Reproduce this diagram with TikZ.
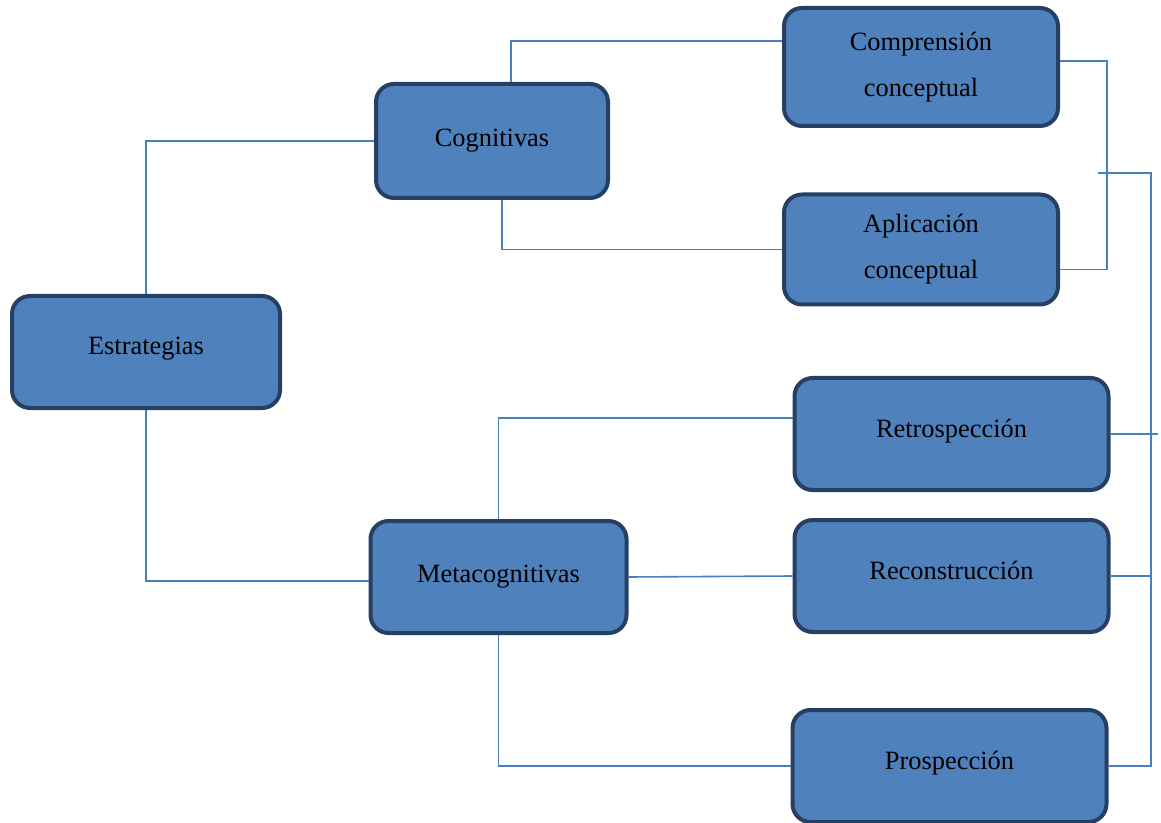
\documentclass[tikz,border=0pt]{standalone}
\usepackage{fontspec}
\setmainfont{Liberation Serif}
\usepackage{xcolor}
\usetikzlibrary{positioning,calc}
\definecolor{boxfill}{HTML}{4F81BD}
\definecolor{boxline}{HTML}{263F63}
\definecolor{linkblue}{HTML}{4A7EBF}

\begin{document}
\begin{tikzpicture}[
    x=0.5pt, y=-0.5pt,
    box/.style={
        rectangle, rounded corners=9pt, draw=boxline, line width=2pt,
        fill=boxfill, text=black, align=center, inner sep=0,
        font=\fontsize{13.2}{23}\selectfont},
    lifted/.style={text depth=0.6em},
    link/.style={draw=linkblue, line width=0.8pt}]
\useasboundingbox (0,0) rectangle (1161,823);

\node[box, lifted, minimum width=134pt, minimum height=56pt] (est)   at (146,352)   {Estrategias};
\node[box, minimum width=116pt, minimum height=57pt] (cog)   at (492,141)   {Cognitivas};
\node[box, minimum width=128pt, minimum height=56pt] (meta)  at (498.5,577) {Metacognitivas};
\node[box, minimum width=137pt, minimum height=59pt] (comp)  at (921,67)    {Comprensión\\conceptual};
\node[box, minimum width=137pt, minimum height=55pt] (apl)   at (921,249.5) {Aplicación\\conceptual};
\node[box, lifted, minimum width=157pt, minimum height=56pt] (retro) at (951.5,434) {Retrospección};
\node[box, lifted, minimum width=157pt, minimum height=56pt] (recon) at (951.5,576) {Reconstrucción};
\node[box, lifted, minimum width=157pt, minimum height=56pt] (pros)  at (949.5,766) {Prospección};

\coordinate (bracketmid) at (1098,173);
\coordinate (bracket) at (1107,173);
\coordinate (rail) at (1151,173);

% left side
\path[link] (est.north) |- (cog.west);
\path[link] (est.south) |- ([yshift=-2pt]meta.west);
\path[link] ([xshift=9.5pt]cog.north) |- ([yshift=13pt]comp.west);
\path[link] ([xshift=5pt]cog.south) |- (apl.west);
\path[link] (meta.north) |- ([yshift=8pt]retro.west);
\path[link] (meta.east) -- (recon.west);
\path[link] (meta.south) |- (pros.west);

% right side
\path[link] ([yshift=3pt]comp.east) -| (bracket) |- ([yshift=-10pt]apl.east);
\path[link] (bracketmid) -| (rail |- pros.east) -- (pros.east);
\path[link] (retro.east) -- ++(23.5pt,0);
\path[link] (recon.east) -- (recon.east -| rail);

\end{tikzpicture}
\end{document}
